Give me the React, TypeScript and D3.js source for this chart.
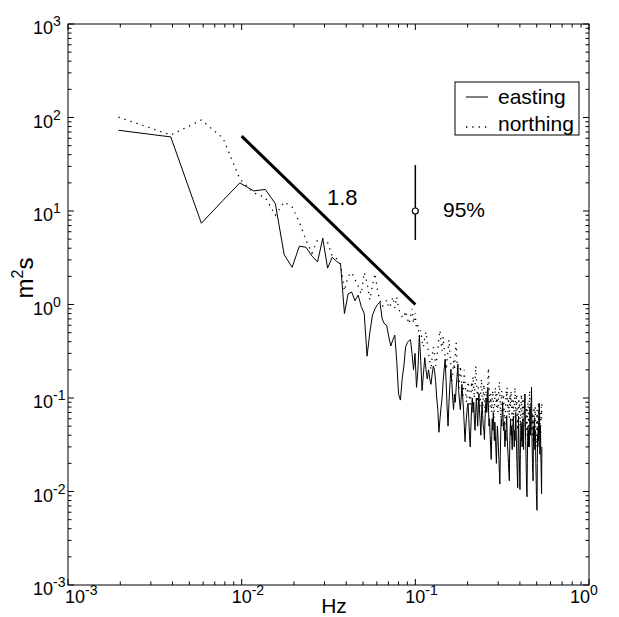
import React from 'react';
import * as d3 from 'd3';

const width = 619;
const height = 617;
const plot = { left: 68, right: 589, top: 24, bottom: 585 };
const font = '"Liberation Sans", Arial, Helvetica, sans-serif';

// spectra, one value per frequency bin (bin k -> k / 512 Hz)
const binWidth = 1 / 512;
const easting = [
  73, 62, 7.4, 13, 20, 16.4, 17, 12, 3.4, 2.5,
  4.2, 4.1, 3.3, 2.85, 5.1, 2.45, 3.2, 2.9, 2.7, 0.8,
  1.3, 1.36, 1.1, 1.26, 0.95, 0.8, 0.28, 0.5, 0.77, 0.9,
  1.0, 1.06, 0.7, 0.62, 0.6, 0.45, 0.36, 0.42, 0.47, 0.25,
  0.11, 0.095, 0.16, 0.22, 0.35, 0.39, 0.41, 0.42, 0.3, 0.2,
  0.3, 0.13, 0.2, 0.47, 0.25, 0.12, 0.18, 0.27, 0.2, 0.16,
  0.2, 0.16, 0.14, 0.18, 0.22, 0.2, 0.15, 0.1, 0.075, 0.043,
  0.06, 0.08, 0.1, 0.15, 0.2, 0.26, 0.15, 0.08, 0.05, 0.09,
  0.14, 0.2, 0.15, 0.1, 0.075, 0.11, 0.09, 0.13, 0.17, 0.23,
  0.12, 0.09, 0.075, 0.1, 0.14, 0.1, 0.075, 0.05, 0.034, 0.05,
  0.064, 0.08, 0.088, 0.06, 0.04, 0.03, 0.05, 0.08, 0.1, 0.07,
  0.09, 0.06, 0.045, 0.07, 0.1, 0.075, 0.05, 0.08, 0.11, 0.07,
  0.055, 0.04, 0.06, 0.09, 0.065, 0.05, 0.045, 0.036, 0.06, 0.08,
  0.1, 0.07, 0.09, 0.13, 0.08, 0.05, 0.06, 0.04, 0.03, 0.022,
  0.04, 0.06, 0.045, 0.07, 0.05, 0.035, 0.055, 0.04, 0.028, 0.02,
  0.035, 0.05, 0.04, 0.03, 0.022, 0.016, 0.012, 0.025, 0.045, 0.06,
  0.05, 0.07, 0.088, 0.06, 0.045, 0.055, 0.04, 0.03, 0.045, 0.035,
  0.05, 0.065, 0.04, 0.03, 0.025, 0.02, 0.016, 0.013, 0.03, 0.045,
  0.06, 0.04, 0.05, 0.035, 0.028, 0.045, 0.055, 0.064, 0.04, 0.03,
  0.045, 0.035, 0.05, 0.07, 0.045, 0.03, 0.02, 0.014, 0.011, 0.03,
  0.064, 0.04, 0.025, 0.016, 0.0105, 0.025, 0.04, 0.055, 0.035, 0.05,
  0.03, 0.045, 0.06, 0.04, 0.028, 0.05, 0.07, 0.09, 0.11, 0.06,
  0.035, 0.025, 0.016, 0.011, 0.0088, 0.02, 0.035, 0.05, 0.03, 0.045,
  0.045, 0.03, 0.05, 0.08, 0.06, 0.04, 0.07, 0.09, 0.13, 0.05,
  0.03, 0.02, 0.016, 0.013, 0.03, 0.05, 0.035, 0.06, 0.04, 0.028,
  0.045, 0.03, 0.02, 0.014, 0.009, 0.0075, 0.0063, 0.02, 0.04, 0.03,
  0.05, 0.035, 0.06, 0.075, 0.088, 0.04, 0.025, 0.035, 0.05, 0.03,
  0.02, 0.014, 0.0095, 0.03,
];
const northing = [
  101, 65, 94, 60, 22, 15.6, 14, 9, 12.5, 11,
  7.6, 4.9, 3.55, 4.9, 5.0, 4.6, 3.3, 3.1, 2.7, 1.4,
  2.0, 2.2, 1.85, 1.57, 1.3, 2.2, 1.7, 1.12, 1.6, 2.15,
  1.43, 1.1, 0.95, 1.0, 1.12, 0.92, 1.0, 1.2, 0.92, 1.2,
  0.92, 0.8, 0.74, 0.72, 0.85, 0.72, 0.62, 0.74, 0.9, 0.63,
  0.81, 0.55, 0.6, 0.45, 0.53, 0.4, 0.35, 0.44, 0.51, 0.38,
  0.3, 0.25, 0.2, 0.28, 0.35, 0.3, 0.22, 0.26, 0.34, 0.45,
  0.53, 0.4, 0.32, 0.45, 0.35, 0.28, 0.2, 0.25, 0.33, 0.42,
  0.3, 0.22, 0.15, 0.18, 0.25, 0.2, 0.3, 0.39, 0.25, 0.18,
  0.12, 0.16, 0.22, 0.17, 0.13, 0.1, 0.14, 0.2, 0.15, 0.11,
  0.09, 0.12, 0.15, 0.13, 0.1, 0.08, 0.11, 0.15, 0.12, 0.17,
  0.13, 0.1, 0.14, 0.22, 0.16, 0.12, 0.09, 0.13, 0.1, 0.07,
  0.09, 0.12, 0.16, 0.11, 0.08, 0.1, 0.14, 0.1, 0.07, 0.09,
  0.12, 0.09, 0.11, 0.15, 0.21, 0.14, 0.1, 0.08, 0.11, 0.09,
  0.07, 0.1, 0.12, 0.09, 0.06, 0.08, 0.1, 0.13, 0.1, 0.08,
  0.11, 0.09, 0.07, 0.1, 0.13, 0.15, 0.11, 0.08, 0.06, 0.09,
  0.12, 0.1, 0.07, 0.09, 0.11, 0.08, 0.06, 0.05, 0.07, 0.09,
  0.12, 0.1, 0.13, 0.09, 0.07, 0.1, 0.08, 0.06, 0.09, 0.11,
  0.08, 0.12, 0.1, 0.07, 0.05, 0.07, 0.1, 0.08, 0.06, 0.08,
  0.1, 0.13, 0.09, 0.07, 0.08, 0.11, 0.08, 0.06, 0.045, 0.06,
  0.08, 0.1, 0.07, 0.09, 0.06, 0.05, 0.07, 0.09, 0.11, 0.08,
  0.06, 0.08, 0.1, 0.07, 0.05, 0.065, 0.09, 0.11, 0.08, 0.06,
  0.045, 0.06, 0.08, 0.06, 0.04, 0.055, 0.07, 0.09, 0.065, 0.05,
  0.07, 0.1, 0.12, 0.08, 0.06, 0.075, 0.09, 0.065, 0.05, 0.04,
  0.055, 0.07, 0.05, 0.035, 0.05, 0.065, 0.08, 0.06, 0.045, 0.06,
  0.08, 0.055, 0.04, 0.03, 0.045, 0.06, 0.075, 0.05, 0.04, 0.055,
  0.07, 0.09, 0.065, 0.05, 0.04, 0.055, 0.07, 0.05, 0.035, 0.05,
  0.065, 0.08, 0.06, 0.096,
];

// reference slope line (-1.8 in log-log) and 95% confidence bar
const slopeFreq = [0.01, 0.1];
const slopeValue = [63.1, 1.0];
const slopeLabel = '1.8';
const ciFreq = 0.1;
const ciValue = [4.9, 10, 31];
const ciLabel = '95%';

const xDecades = [-3, -2, -1, 0];
const yDecades = [-3, -2, -1, 0, 1, 2, 3];
const xLabelShift = [7, 0, 0, -9];
const seriesNames = ['easting', 'northing'];

const xScale = d3.scaleLog().domain([1e-3, 1]).range([plot.left, plot.right]);
const yScale = d3.scaleLog().domain([1e-3, 1e3]).range([plot.bottom, plot.top]);

const minorOf = (decades: number[]) =>
  decades.slice(0, -1).flatMap(e => d3.range(2, 10).map(m => m * Math.pow(10, e)));

const line = d3.line<[number, number]>()
  .x(d => xScale(d[0]))
  .y(d => yScale(d[1]));

const toPoints = (vals: number[]) =>
  vals.map((v, i) => [(i + 1) * binWidth, v] as [number, number]);

const dotted = '1.3 5';

export default function App() {
  const xMinor = minorOf(xDecades);
  const yMinor = minorOf(yDecades);
  const major = 6;
  const minor = 3.5;

  return (
    <svg width={width} height={height} style={{ position: 'absolute', left: 0, top: 0, background: '#fff' }}
      fontFamily={font}>
      <rect x={0} y={0} width={width} height={height} fill="#fff" />

      {/* data */}
      <path d={line(toPoints(northing)) || ''} fill="none" stroke="#000" strokeWidth={1.3}
        strokeDasharray={dotted} />
      <path d={line(toPoints(easting)) || ''} fill="none" stroke="#000" strokeWidth={1} />

      {/* slope */}
      <path d={line(slopeFreq.map((f, i) => [f, slopeValue[i]] as [number, number])) || ''}
        stroke="#000" strokeWidth={3} fill="none" />
      <text x={xScale(0.031)} y={205} fontSize={22}>{slopeLabel}</text>

      {/* confidence bar */}
      <line x1={xScale(ciFreq)} x2={xScale(ciFreq)} y1={yScale(ciValue[0])} y2={yScale(ciValue[2])}
        stroke="#000" strokeWidth={1.5} />
      <circle cx={xScale(ciFreq)} cy={yScale(ciValue[1])} r={3} fill="#fff" stroke="#000" strokeWidth={1.2} />
      <text x={443} y={217} fontSize={21}>{ciLabel}</text>

      {/* frame */}
      <rect x={plot.left} y={plot.top} width={plot.right - plot.left} height={plot.bottom - plot.top}
        fill="none" stroke="#000" strokeWidth={1} />

      {/* x ticks */}
      {xDecades.map(e => {
        const x = xScale(Math.pow(10, e));
        return (
          <g key={'xM' + e}>
            <line x1={x} x2={x} y1={plot.bottom} y2={plot.bottom - major} stroke="#000" />
            <line x1={x} x2={x} y1={plot.top} y2={plot.top + major} stroke="#000" />
          </g>
        );
      })}
      {xMinor.map(v => {
        const x = xScale(v);
        return (
          <g key={'xm' + v}>
            <line x1={x} x2={x} y1={plot.bottom} y2={plot.bottom - minor} stroke="#000" />
            <line x1={x} x2={x} y1={plot.top} y2={plot.top + minor} stroke="#000" />
          </g>
        );
      })}

      {/* y ticks */}
      {yDecades.map(e => {
        const y = yScale(Math.pow(10, e));
        return (
          <g key={'yM' + e}>
            <line x1={plot.left} x2={plot.left + major} y1={y} y2={y} stroke="#000" />
            <line x1={plot.right} x2={plot.right - major} y1={y} y2={y} stroke="#000" />
          </g>
        );
      })}
      {yMinor.map(v => {
        const y = yScale(v);
        return (
          <g key={'ym' + v}>
            <line x1={plot.left} x2={plot.left + minor} y1={y} y2={y} stroke="#000" />
            <line x1={plot.right} x2={plot.right - minor} y1={y} y2={y} stroke="#000" />
          </g>
        );
      })}

      {/* tick labels */}
      {xDecades.map((e, i) => (
        <text key={'xl' + e} x={xScale(Math.pow(10, e)) - 10 + xLabelShift[i]} y={plot.bottom + 18} fontSize={18}>
          10<tspan dy={-8} fontSize={14}>{e}</tspan>
        </text>
      ))}
      {yDecades.map(e => (
        <text key={'yl' + e} x={33} y={yScale(Math.pow(10, e)) + 10} fontSize={18}>
          10<tspan dy={-8} fontSize={14}>{e}</tspan>
        </text>
      ))}

      {/* axis titles */}
      <text x={334} y={613} fontSize={21} textAnchor="middle">Hz</text>
      <text transform="translate(33, 278) rotate(-90)" fontSize={24} textAnchor="middle">
        m<tspan dy={-10} fontSize={16}>2</tspan><tspan dy={10}>s</tspan>
      </text>

      {/* legend */}
      <g>
        <rect x={455} y={82} width={124} height={53} fill="#fff" stroke="#000" strokeWidth={1} />
        <line x1={466} x2={488} y1={97} y2={97} stroke="#000" />
        <line x1={466} x2={488} y1={127} y2={127} stroke="#000" strokeWidth={1.3} strokeDasharray={dotted} />
        <text x={498} y={104} fontSize={21}>{seriesNames[0]}</text>
        <text x={498} y={131} fontSize={21}>{seriesNames[1]}</text>
      </g>
    </svg>
  );
}
